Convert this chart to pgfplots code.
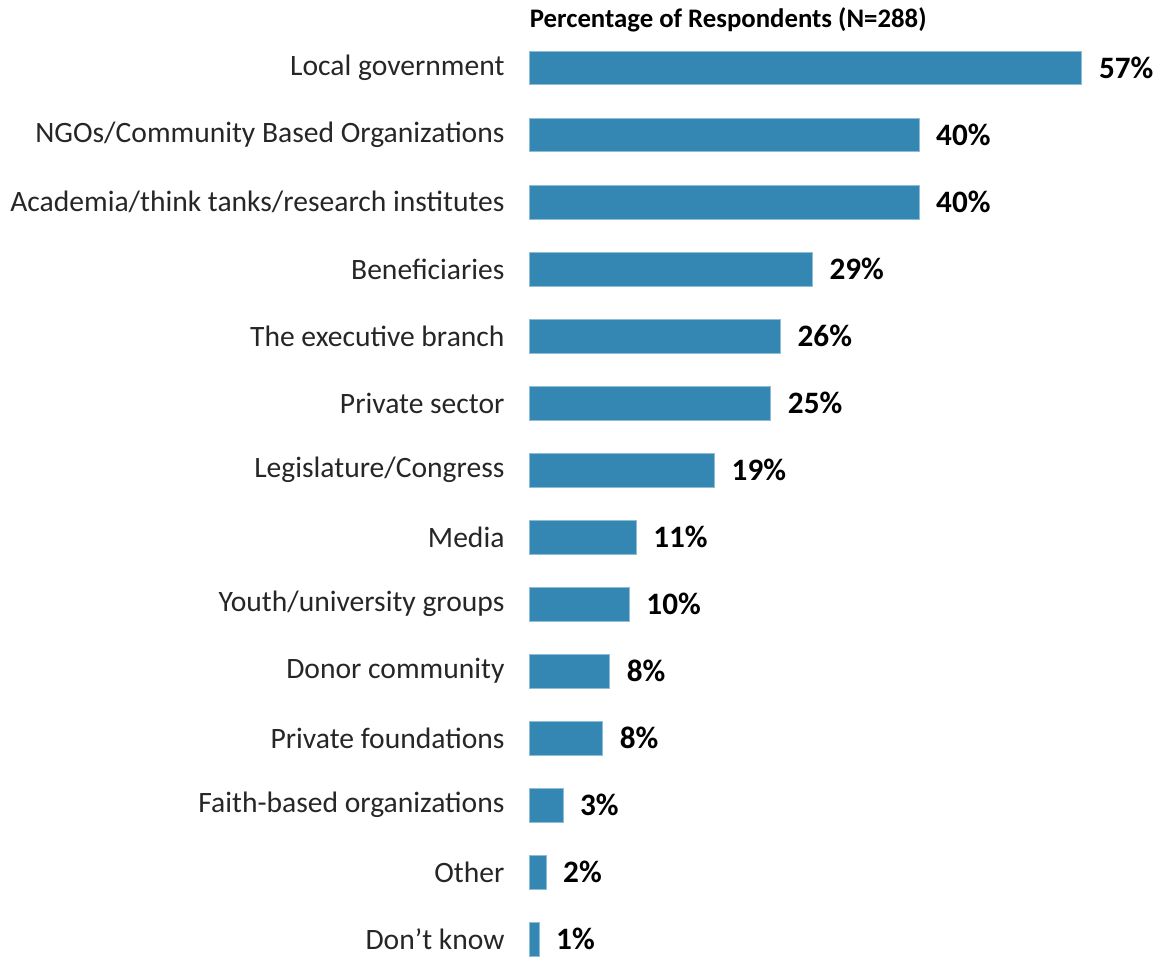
\documentclass[border=0pt]{standalone}
\usepackage{fontspec}
\setmainfont{Carlito}
\usepackage{pgfplots}
\usepackage{pgfplotstable}
\pgfplotsset{compat=1.18}
\definecolor{barcol}{HTML}{3387B2}
\pgfplotstableread[col sep=comma]{
y,x,lab
0,57.0,57\%
1,40.2,40\%
2,40.2,40\%
3,29.2,29\%
4,25.9,26\%
5,24.9,25\%
6,19.1,19\%
7,11.0,11\%
8,10.3,10\%
9,8.28,8\%
10,7.56,8\%
11,3.46,3\%
12,1.71,2\%
13,0.99,1\%
}\datatab
\begin{document}
\begin{tikzpicture}
\begin{axis}[name=ax, scale only axis, width=315.25pt, height=460.2pt,
  xmin=0, xmax=65, ymin=-0.5, ymax=13.22, y dir=reverse,
  axis line style={draw=none}, xtick=\empty, ytick={0,...,13},
  major tick length=0pt,
  yticklabels={Local government, NGOs/Community Based Organizations, Academia/think tanks/research institutes, Beneficiaries, The executive branch, Private sector, Legislature/Congress, Media, Youth/university groups, Donor community, Private foundations, Faith-based organizations, Other, Don’t know},
  yticklabel style={font=\fontsize{14.8}{17}\selectfont, text=black!85, xshift=-9pt},
  clip=false,
  xbar, bar width=17pt,
  nodes near coords, point meta=explicit symbolic,
  every node near coord/.append style={font=\bfseries\fontsize{15.6}{18}\selectfont, anchor=west, xshift=5pt},
]
\addplot[fill=barcol, draw=barcol!55!white, line width=0.5pt] table[x=x, y=y, meta=lab] {\datatab};
\end{axis}
\node[font=\bfseries\fontsize{13.4}{15}\selectfont, anchor=west, inner sep=0pt] at ([yshift=7.5pt]ax.north west) {Percentage of Respondents (N=288)};
\path (ax.north west) ++(-265pt,17.25pt) rectangle ++(580pt,-477.5pt);
\end{tikzpicture}
\end{document}
